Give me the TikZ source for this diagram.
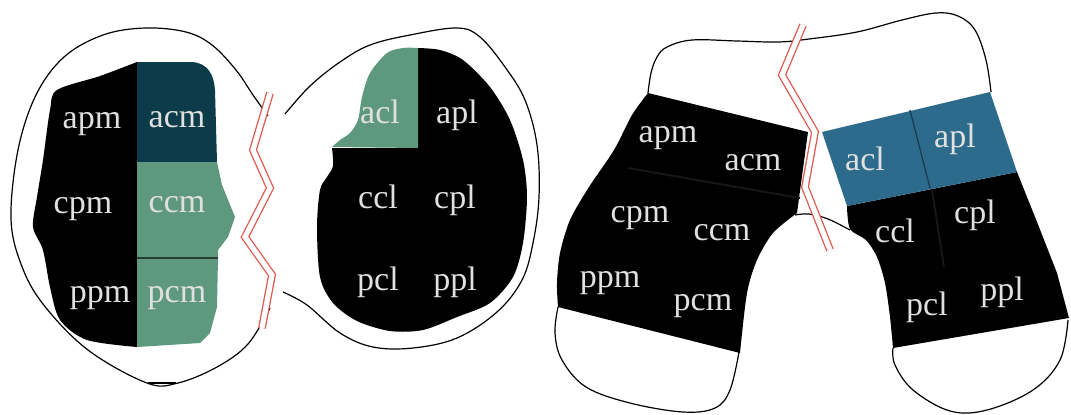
\documentclass[tikz,border=0pt]{standalone}
\usepackage{fontspec}
\setmainfont{Liberation Serif}
\definecolor{acmteal}{HTML}{0C3C49}
\definecolor{condgreen}{HTML}{5E997F}
\definecolor{aclblue}{HTML}{2D6B8C}
\definecolor{crackred}{HTML}{E0574E}
\definecolor{seam}{HTML}{161616}

\begin{document}
\begin{tikzpicture}[x=0.5pt, y=-0.5pt,
        outline/.style={draw=black, line width=0.6pt},
        crack/.style={draw=crackred, line width=0.65pt, double=white, double distance=2.6pt},
        lbl/.style={anchor=base, inner sep=0pt, text=white!88!black,
            font=\fontsize{17}{19}\selectfont}]
        \useasboundingbox (0,0) rectangle (1071,414);

        % axial view
        \draw[outline] plot[smooth, tension=0.6] coordinates {(268,116) (253,95) (236,70) (212,45) (186,32) (145,28)
            (103,35) (64,57) (36,95) (18,150) (11,218) (21,264) (43,304) (88,350) (147,383) (178,383)
            (217,367) (248,344) (270,308)};
        \draw[outline] plot[smooth, tension=0.6] coordinates {(285,114) (310,86) (340,62) (370,45) (410,35) (457,28)
            (480,37) (505,67) (525,100) (537,145) (539,197) (533,243) (522,280) (497,312) (457,338)
            (413,348) (373,347) (340,333) (307,305) (283,292)};
        \draw[line width=1.4pt] (148,383) -- (176,383);

        \fill[black] (137,347) -- plot[smooth, tension=0.5] coordinates {(137,62) (100,76) (57,90) (50,110) (43,160)
            (37,197) (33,227) (43,250) (50,287) (60,320) (87,340) (137,347)} -- cycle;
        \fill[acmteal] (137,62) -- (192,62) .. controls (208,63) and (214,75) .. (215,90) -- (217,162)
            -- (137,162) -- cycle;
        \fill[condgreen] (137,162) -- (217,162) -- (222,185) -- (235,217) -- (228,237) -- (218,250)
            -- (218,258) -- (137,258) -- cycle;
        \fill[condgreen] (137,258) -- (218,258) -- (217,307) -- (210,333) -- (200,343) -- (137,347) -- cycle;
        \draw[condgreen!40!black, line width=0.9pt] (137,258) -- (218,258);

        \fill[black] (418,148) -- plot[smooth, tension=0.5] coordinates {(418,48) (440,50) (463,60) (490,87)
            (510,120) (523,160) (527,197) (523,243) (513,277) (490,303) (457,317) (423,330) (390,331)
            (357,321) (333,303) (320,277) (317,227) (320,190) (327,177) (333,166) (332,148)} -- cycle;
        \fill[condgreen] (418,48) -- (418,148) -- plot[smooth, tension=0.5] coordinates {(332,147) (340,140)
            (350,133) (358,120) (362,97) (370,73) (387,53) (403,48) (418,48)} -- cycle;

        \draw[crack] (270,93) -- (253,150) -- (270,188) -- (245,237) -- (272,275) -- (262,328);

        \node[lbl] (apm1) at (92,128) {apm};
        \node[lbl] (acm1) at (177,127) {acm};
        \node[lbl] (cpm1) at (83,213) {cpm};
        \node[lbl] (ccm1) at (177,212) {ccm};
        \node[lbl] (ppm1) at (100,302) {ppm};
        \node[lbl] (pcm1) at (177,302) {pcm};
        \node[lbl] (acl1) at (380,123) {acl};
        \node[lbl] (apl1) at (457,123) {apl};
        \node[lbl] (ccl1) at (378,208) {ccl};
        \node[lbl] (cpl1) at (455,208) {cpl};
        \node[lbl] (pcl1) at (378,290) {pcl};
        \node[lbl] (ppl1) at (455,290) {ppl};

        % coronal view
        \draw[outline] plot[smooth, tension=0.6] coordinates {(648,93) (651,73) (657,57) (667,47) (692,40) (737,41)
            (778,42) (809,39) (857,32) (902,20) (936,13) (958,16) (975,30) (986,60) (991,92)};
        \draw[outline] plot[smooth, tension=0.6] coordinates {(795,215) (809,214) (828,219) (850,230)};
        \draw[outline] plot[smooth, tension=0.6] coordinates {(558,307) (555,333) (562,360) (586,387) (630,403)
            (683,412) (715,408) (730,390) (739,352)};
        \draw[outline] plot[smooth, tension=0.6] coordinates {(893,348) (895,365) (913,390) (950,411) (987,410)
            (1033,390) (1060,360) (1068,320)};

        \fill[black] (648,93) -- (808,132) -- (797,213) -- plot[smooth, tension=0.5] coordinates {(797,213)
            (773,233) (757,260) (747,293) (740,353)} -- plot[smooth, tension=0.5] coordinates {(558,307)
            (557,283) (560,253) (570,220) (589,187) (614,150) (632,115) (648,93)} -- cycle;
        \fill[black] (847,206) -- (1017,172) -- (1039,227) -- (1057,273) -- (1069,318) -- (893,348)
            -- plot[smooth, tension=0.5] coordinates {(893,348) (890,317) (885,283) (877,257) (866,240)
            (850,229) (847,206)} -- cycle;
        \draw[seam, line width=1pt] (628,168) -- (800,198);
        \draw[seam, line width=1pt] (932,190) -- (944,267);
        \fill[aclblue] (822,132) -- (990,92) -- (1017,172) -- (847,206) -- cycle;
        \draw[aclblue!55!black, line width=0.6pt] (910,110) -- (930,188);

        \draw[crack] (803,25) -- (782,75) -- (815,132) -- (805,187) -- (830,250);

        \node[lbl] (apm2) at (668,142) {apm};
        \node[lbl] (acm2) at (753,170) {acm};
        \node[lbl] (cpm2) at (640,222) {cpm};
        \node[lbl] (ccm2) at (722,240) {ccm};
        \node[lbl] (ppm2) at (610,287) {ppm};
        \node[lbl] (pcm2) at (703,310) {pcm};
        \node[lbl] (acl2) at (865,170) {acl};
        \node[lbl] (apl2) at (955,147) {apl};
        \node[lbl] (ccl2) at (895,242) {ccl};
        \node[lbl] (cpl2) at (975,223) {cpl};
        \node[lbl] (pcl2) at (927,315) {pcl};
        \node[lbl] (ppl2) at (1002,300) {ppl};
    \end{tikzpicture}
\end{document}
